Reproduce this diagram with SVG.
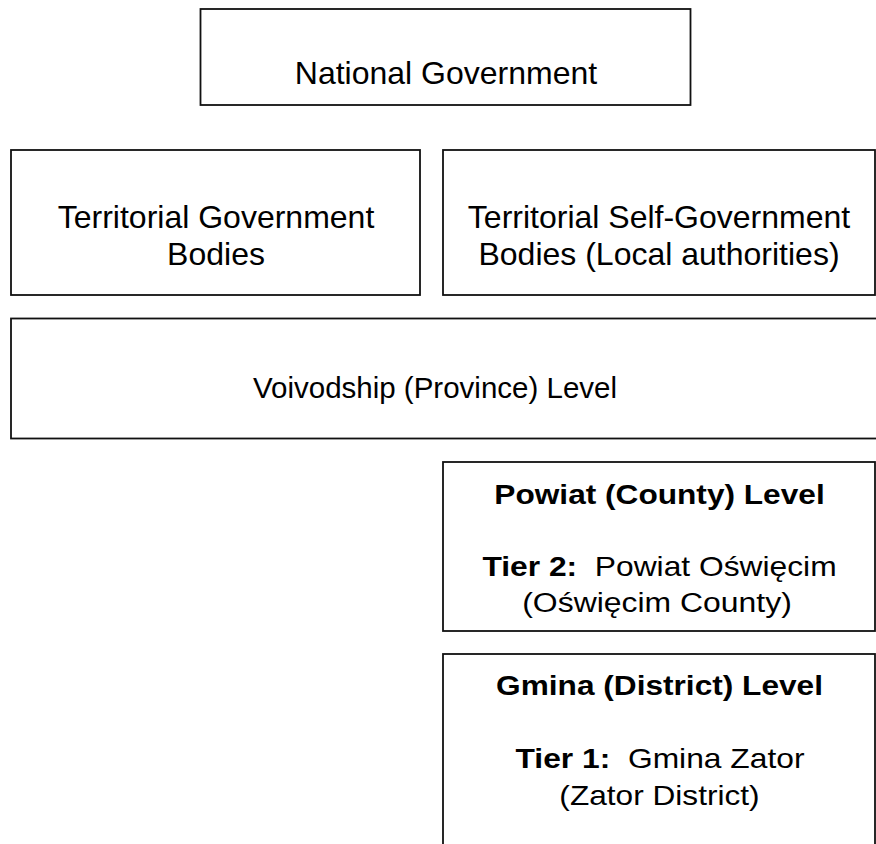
<svg xmlns="http://www.w3.org/2000/svg" width="876" height="844" viewBox="0 0 876 844">
<style>
.box{fill:#fff;stroke:#111;stroke-width:1.8}
.t{font-family:"Liberation Sans",Arial,sans-serif;fill:#000;text-anchor:middle}
.big{font-size:32px}
.mid{font-size:29.5px}
.sm{font-size:28px}
.b{font-weight:bold}
</style>
<rect width="876" height="844" fill="#fff"/>
<g id="connectors"></g>
<g id="national">
<rect class="box" x="200.5" y="9" width="490" height="96"/>
<text class="t big" x="446" y="83.5">National Government</text>
</g>
<g id="territorial-government">
<rect class="box" x="11" y="150" width="409" height="145"/>
<text class="t big" x="216" y="227.5">Territorial Government</text>
<text class="t big" x="216" y="264.5">Bodies</text>
</g>
<g id="territorial-self-government">
<rect class="box" x="443" y="150" width="432" height="145"/>
<text class="t big" x="659" y="227.5">Territorial Self-Government</text>
<text class="t big" x="659" y="264.5">Bodies (Local authorities)</text>
</g>
<g id="voivodship">
<rect class="box" x="11" y="318.5" width="880" height="120"/>
<text class="t mid" x="435" y="397.5">Voivodship (Province) Level</text>
</g>
<g id="powiat">
<rect class="box" x="443" y="462" width="432" height="169"/>
<text class="t sm b" transform="translate(659.5,503.5) scale(1.13,1)" x="0" y="0">Powiat (County) Level</text>
<text class="t sm" transform="translate(659.5,575.5) scale(1.135,1)" x="0" y="0" xml:space="preserve"><tspan class="b">Tier 2:</tspan>  Powiat Oświęcim</text>
<text class="t sm" transform="translate(657,612) scale(1.14,1)" x="0" y="0">(Oświęcim County)</text>
</g>
<g id="gmina">
<rect class="box" x="443" y="654" width="432" height="220"/>
<text class="t sm b" transform="translate(659.5,695) scale(1.13,1)" x="0" y="0">Gmina (District) Level</text>
<text class="t sm" transform="translate(660,768) scale(1.135,1)" x="0" y="0" xml:space="preserve"><tspan class="b">Tier 1:</tspan>  Gmina Zator</text>
<text class="t sm" transform="translate(659.5,805) scale(1.13,1)" x="0" y="0">(Zator District)</text>
</g>
</svg>
